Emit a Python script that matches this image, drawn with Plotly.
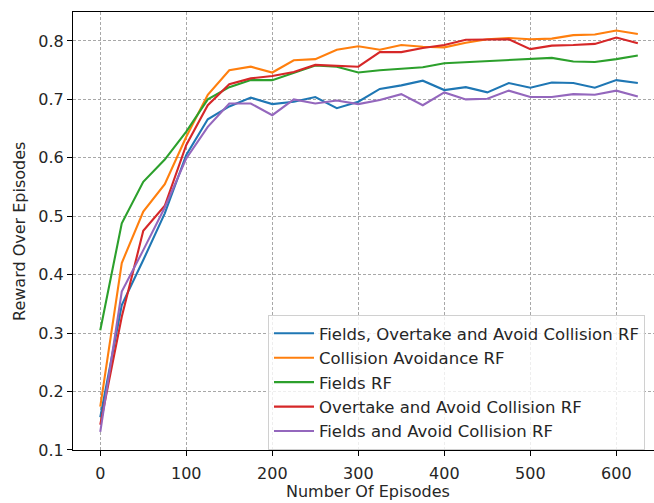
import plotly.graph_objects as go

episodes = [0, 25, 50, 75, 100, 125, 150, 175, 200, 225, 250, 275, 300,
            325, 350, 375, 400, 425, 450, 475, 500, 525, 550, 575, 600, 625]

fields_overtake_avoid = [0.156, 0.348, 0.425, 0.505, 0.605, 0.666, 0.688, 0.703, 0.692, 0.696,
                         0.704, 0.685, 0.696, 0.718, 0.724, 0.732, 0.716, 0.721, 0.712, 0.728,
                         0.720, 0.729, 0.728, 0.720, 0.733, 0.728]
collision_avoidance = [0.174, 0.420, 0.508, 0.555, 0.636, 0.708, 0.750, 0.756, 0.746, 0.767,
                       0.769, 0.785, 0.791, 0.785, 0.793, 0.790, 0.789, 0.797, 0.803, 0.805,
                       0.803, 0.804, 0.810, 0.811, 0.818, 0.812]
fields_only = [0.305, 0.488, 0.559, 0.597, 0.645, 0.700, 0.721, 0.733, 0.733, 0.746,
               0.758, 0.756, 0.746, 0.750, 0.753, 0.755, 0.762, 0.764, 0.765, 0.768,
               0.769, 0.771, 0.765, 0.764, 0.769, 0.775]
overtake_avoid = [0.143, 0.328, 0.475, 0.518, 0.622, 0.690, 0.726, 0.736, 0.740, 0.747,
                  0.759, 0.757, 0.756, 0.781, 0.781, 0.788, 0.793, 0.802, 0.802, 0.803,
                  0.786, 0.792, 0.793, 0.795, 0.806, 0.796]
fields_avoid = [0.131, 0.371, 0.442, 0.515, 0.599, 0.653, 0.693, 0.693, 0.673, 0.700,
                0.693, 0.698, 0.692, 0.699, 0.709, 0.690, 0.712, 0.700, 0.701, 0.715,
                0.704, 0.704, 0.709, 0.708, 0.715, 0.705]

series_names = ["Fields, Overtake and Avoid Collision RF", "Collision Avoidance RF",
                "Fields RF", "Overtake and Avoid Collision RF", "Fields and Avoid Collision RF"]
series_values = [fields_overtake_avoid, collision_avoidance, fields_only, overtake_avoid, fields_avoid]
colors = ["#1f77b4", "#ff7f0e", "#2ca02c", "#d62728", "#9467bd"]

x_ticks = [0, 100, 200, 300, 400, 500, 600]
y_ticks = [0.1, 0.2, 0.3, 0.4, 0.5, 0.6, 0.7, 0.8]

FONT = "DejaVu Sans"
TXT = "#262626"

fig = go.Figure()
for name, vals, col in zip(series_names, series_values, colors):
    fig.add_trace(go.Scatter(x=episodes, y=vals, mode="lines", name=name,
                             line=dict(color=col, width=2.1)))

W, H = 654, 503
L, R, T, B = 73, 0, 12, 53
pw, ph = W - L - R, H - T - B


def px_x(v):
    return (v - L) / pw


def px_y(v):
    return (H - B - v) / ph


fig.update_layout(
    width=W, height=H,
    margin=dict(l=L, r=R, t=T, b=B),
    paper_bgcolor="white", plot_bgcolor="white",
    font=dict(family=FONT, size=16, color=TXT),
    showlegend=True,
    legend=dict(x=px_x(268), y=px_y(315),
                xanchor="left", yanchor="top",
                bgcolor="rgba(255,255,255,0.8)", bordercolor="#d0d0d0", borderwidth=1,
                font=dict(family=FONT, size=16.5, color=TXT),
                tracegroupgap=0, itemwidth=40),
    xaxis=dict(range=[-31.7, 643.8], tickvals=x_ticks, ticks="outside", ticklen=5,
               tickwidth=1, tickcolor="black", ticklabelstandoff=4,
               showline=True, linecolor="black", linewidth=1.2, mirror=True,
               showgrid=True, gridcolor="#a8a8a8", gridwidth=0.8, griddash="3px,2px",
               zeroline=False, tickfont=dict(size=16)),
    yaxis=dict(range=[0.0999, 0.8496], tickvals=y_ticks, tickformat=".1f",
               ticks="outside", ticklen=5, tickwidth=1, tickcolor="black",
               showline=True, linecolor="black", linewidth=1.2, mirror=False,
               showgrid=True, gridcolor="#a8a8a8", gridwidth=0.8, griddash="3px,2px",
               zeroline=False, tickfont=dict(size=16)),
    annotations=[
        dict(text="Number Of Episodes", x=px_x(368), y=px_y(491.5), xref="paper", yref="paper",
             xanchor="center", yanchor="middle", showarrow=False, font=dict(size=16)),
        dict(text="Reward Over Episodes", x=px_x(19), y=px_y(232), xref="paper", yref="paper",
             xanchor="center", yanchor="middle", showarrow=False, textangle=-90,
             font=dict(size=16)),
    ],
)

fig.write_html("out.html")
